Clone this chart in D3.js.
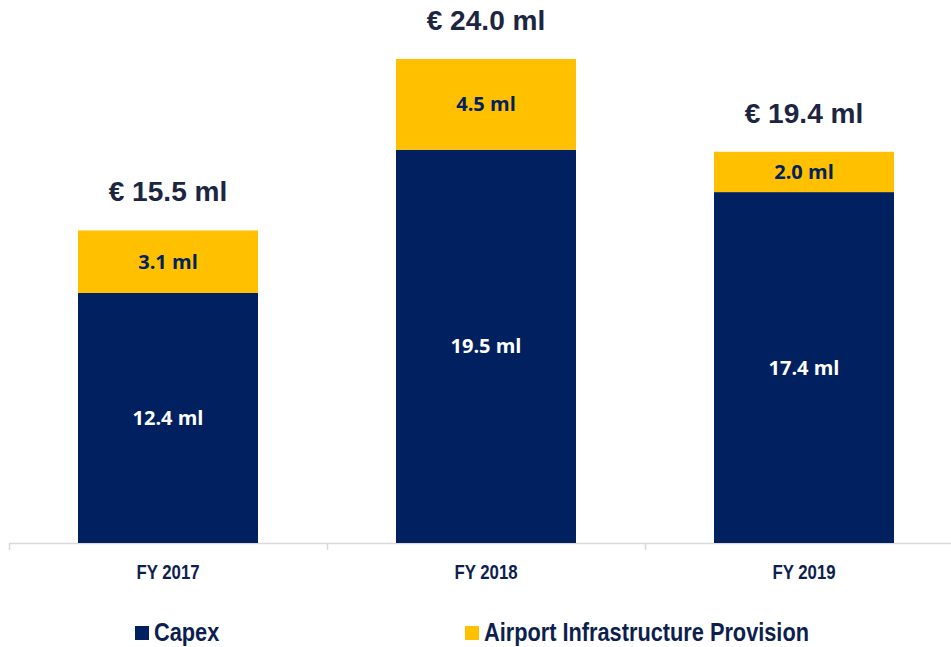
<!DOCTYPE html>
<html>
<head>
<meta charset="utf-8">
<script src="https://cdn.jsdelivr.net/npm/d3@7"></script>
<style>
body{margin:0;background:#fff}
</style>
</head>
<body>
<div id="chart"></div>
<script>
var years = ["FY 2017", "FY 2018", "FY 2019"];
var capex = [12.4, 19.5, 17.4];
var provision = [3.1, 4.5, 2.0];
var totals = [15.5, 24.0, 19.4];
var seriesNames = ["Capex", "Airport Infrastructure Provision"];

var W = 951, H = 647;
var navy = "#002060", gold = "#FFC000";
var arial = "'Liberation Sans',Arial,sans-serif";

var svg = d3.select("#chart").append("svg")
	.attr("width", W)
	.attr("height", H);

var x = d3.scaleBand().domain(years).range([9, 963]).paddingInner(0).paddingOuter(0);
var y = d3.scaleLinear().domain([0, 24]).range([543, 59]);
var barW = 180;

var rows = years.map(function(d, i){
	return {year: d, capex: capex[i], prov: provision[i], total: totals[i]};
});

// axis line + separators
svg.append("line")
	.attr("x1", 9).attr("x2", W).attr("y1", 543.5).attr("y2", 543.5)
	.attr("stroke", "#d9d9d9").attr("stroke-width", 1.5);
svg.selectAll(".sep").data(years).enter().append("line")
	.attr("x1", function(d){return Math.round(x(d)) + 0.5})
	.attr("x2", function(d){return Math.round(x(d)) + 0.5})
	.attr("y1", 543).attr("y2", 550)
	.attr("stroke", "#d9d9d9").attr("stroke-width", 1.5);

var cx = function(d){return x(d.year) + x.bandwidth()/2};

// capex bars
svg.selectAll(".capex").data(rows).enter().append("rect")
	.attr("x", function(d){return cx(d) - barW/2})
	.attr("y", function(d){return y(d.capex)})
	.attr("width", barW)
	.attr("height", function(d){return y(0) - y(d.capex)})
	.attr("fill", navy);

// provision bars
svg.selectAll(".prov").data(rows).enter().append("rect")
	.attr("x", function(d){return cx(d) - barW/2})
	.attr("y", function(d){return y(d.capex + d.prov)})
	.attr("width", barW)
	.attr("height", function(d){return y(d.capex) - y(d.capex + d.prov)})
	.attr("fill", gold);

// segment labels
svg.selectAll(".lc").data(rows).enter().append("text")
	.attr("x", cx)
	.attr("y", function(d){return (y(d.capex) + y(0))/2 + 7})
	.attr("text-anchor", "middle")
	.style("font-family", "'Open Sans',sans-serif")
	.style("font-weight", "bold")
	.style("font-size", "20px")
	.attr("fill", "#fff")
	.text(function(d){return d.capex.toFixed(1) + " ml"});

svg.selectAll(".lp").data(rows).enter().append("text")
	.attr("x", cx)
	.attr("y", function(d){return (y(d.capex) + y(d.capex + d.prov))/2 + 7})
	.attr("text-anchor", "middle")
	.style("font-family", "'Open Sans',sans-serif")
	.style("font-weight", "bold")
	.style("font-size", "20px")
	.attr("fill", navy)
	.text(function(d){return d.prov.toFixed(1) + " ml"});

// totals
svg.selectAll(".tot").data(rows).enter().append("text")
	.attr("transform", function(d){return "translate(" + cx(d) + "," + (y(d.capex + d.prov) - 29) + ") scale(1.04,1)"})
	.attr("text-anchor", "middle")
	.style("font-family", arial)
	.style("font-weight", "bold")
	.style("font-size", "27px")
	.attr("fill", "#1c2541")
	.text(function(d){return "\u20AC " + d.total.toFixed(1) + " ml"});

// category labels (narrow look)
svg.selectAll(".cat").data(rows).enter().append("text")
	.attr("transform", function(d){return "translate(" + cx(d) + ",579) scale(0.8,1)"})
	.attr("text-anchor", "middle")
	.style("font-family", arial)
	.style("font-weight", "bold")
	.style("font-size", "21px")
	.attr("fill", "#0d1f4f")
	.text(function(d){return d.year});

// legend
var legX = [135, 465];
var leg = svg.selectAll(".leg").data(seriesNames).enter().append("g")
	.attr("transform", function(d, i){return "translate(" + legX[i] + ",626)"});
leg.append("rect")
	.attr("width", 14).attr("height", 14)
	.attr("fill", function(d, i){return i == 0 ? navy : gold});
leg.append("text")
	.attr("transform", "translate(19,15) scale(0.87,1)")
	.style("font-family", arial)
	.style("font-weight", "bold")
	.style("font-size", "25px")
	.attr("fill", "#0d1f4f")
	.text(function(d){return d});
</script>
</body>
</html>
